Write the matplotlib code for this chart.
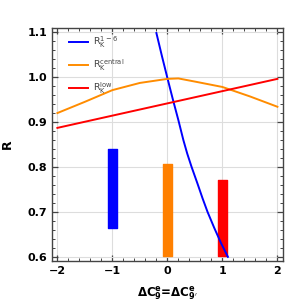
import matplotlib.pyplot as plt
from matplotlib.ticker import MultipleLocator

# curves
blue_x = [-0.2, -0.1, 0.0, 0.1, 0.2, 0.29, 0.36, 0.44, 0.55, 0.64, 0.73, 0.85, 0.97, 1.1]
blue_y = [1.098, 1.047, 0.998, 0.95, 0.904, 0.86, 0.83, 0.8, 0.762, 0.73, 0.7, 0.665, 0.632, 0.6]
orange_x = [-2.0, -1.5, -1.0, -0.5, 0.0, 0.2, 0.5, 1.0, 1.5, 2.0]
orange_y = [0.92, 0.945, 0.971, 0.987, 0.996, 0.997, 0.99, 0.978, 0.957, 0.934]
red_x = [-2.0, 2.0]
red_y = [0.887, 0.996]

# vertical bands
band_x = [-1.0, 0.0, 1.0]
band_lo = [0.665, 0.603, 0.601]
band_hi = [0.84, 0.806, 0.771]
band_colors = ["#0000ff", "#ff8000", "#ff0000"]

labels = [r"R$_\mathrm{K}^\mathrm{1-6}$", r"R$_\mathrm{K}^\mathrm{central}$",
          r"R$_\mathrm{K}^\mathrm{low}$"]

fig = plt.figure(figsize=(3.0, 3.02), dpi=100)
ax = fig.add_axes([0.173, 0.136, 0.77, 0.771])

ax.grid(True, which="major", color="#dddddd", lw=0.8, zorder=0)

ax.plot(blue_x, blue_y, color="#0000ff", lw=1.4, label=labels[0], zorder=3)
ax.plot(orange_x, orange_y, color="#ff8c00", lw=1.4, label=labels[1], zorder=3)
ax.plot(red_x, red_y, color="#ff0000", lw=1.4, label=labels[2], zorder=3)

for x, lo, hi, c in zip(band_x, band_lo, band_hi, band_colors):
    ax.bar(x, hi - lo, bottom=lo, width=0.17, color=c, edgecolor=c,
           lw=1.0, joinstyle="round", zorder=2)

ax.set_xlim(-2.1, 2.1)
ax.set_ylim(0.591, 1.109)
ax.xaxis.set_major_locator(MultipleLocator(1))
ax.xaxis.set_minor_locator(MultipleLocator(0.2))
ax.yaxis.set_major_locator(MultipleLocator(0.1))
ax.yaxis.set_minor_locator(MultipleLocator(0.02))
ax.xaxis.set_major_formatter(plt.FuncFormatter(
    lambda v, p: f"{v:.0f}".replace("-", "\u2212")))
ax.yaxis.set_major_formatter(plt.FuncFormatter(lambda v, p: f"{v:.1f}"))

ax.tick_params(which="both", direction="in", top=True, right=True,
               color="#444444")
ax.tick_params(which="major", length=4, width=0.9, labelsize=8)
ax.tick_params(which="minor", length=2, width=0.7)
for lab in ax.get_xticklabels() + ax.get_yticklabels():
    lab.set_fontweight("bold")
for s in ax.spines.values():
    s.set_color("#444444")
    s.set_linewidth(1.0)

ax.set_xlabel(r"$\mathbf{\Delta C_9^e}$=$\mathbf{\Delta C_{9'}^e}$",
              fontsize=8.5, fontweight="bold", labelpad=6)
ax.set_ylabel("R", fontsize=9, fontweight="bold", labelpad=10)

leg = ax.legend(loc="upper left", frameon=False, fontsize=6.8,
                handlelength=2.0, labelspacing=0.85, borderaxespad=0.3,
                handletextpad=0.5, bbox_to_anchor=(0.045, 1.0))
for t in leg.get_texts():
    t.set_color("#444444")

fig.savefig("out.png", dpi=100, facecolor="white")
